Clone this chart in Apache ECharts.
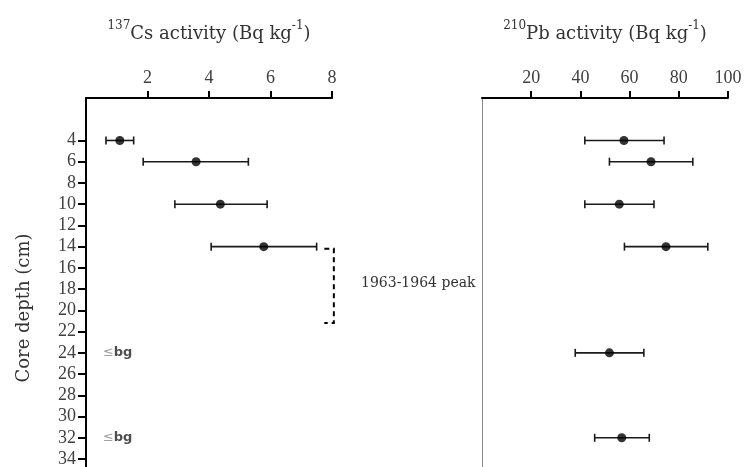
<!DOCTYPE html>
<html>
<head>
<meta charset="utf-8">
<script src="https://cdn.jsdelivr.net/npm/echarts@6/dist/echarts.min.js"></script>
<style>html,body{margin:0;padding:0;background:#fff}#c{width:745px;height:467px}</style>
</head>
<body>
<div id="c"></div>
<script>
// ---- data ----
const csDepth = [4, 6, 10, 14];
const csMean = [1.10, 3.58, 4.37, 5.78];
const csLow = [0.65, 1.86, 2.89, 4.07];
const csHigh = [1.55, 5.28, 5.89, 7.50];
const pbDepth = [4, 6, 10, 14, 24, 32];
const pbMean = [57.7, 68.7, 55.8, 74.8, 51.8, 56.8];
const pbLow = [41.8, 51.8, 41.8, 57.9, 37.9, 45.8];
const pbHigh = [74.0, 85.7, 69.9, 91.8, 65.8, 68.0];
const bgDepth = [24, 32];
const peakTop = 14.2;
const peakBottom = 21.2;
const csTicks = [2, 4, 6, 8];
const pbTicks = [20, 40, 60, 80, 100];
const depthTicks = [4, 6, 8, 10, 12, 14, 16, 18, 20, 22, 24, 26, 28, 30, 32, 34];

const SERIF = 'DejaVu Serif';
const NUMF = 'Liberation Serif';
const chart = echarts.init(document.getElementById('c'), null, {renderer: 'canvas'});

function errRender(params, api) {
  const lo = api.coord([api.value(0), api.value(2)]);
  const hi = api.coord([api.value(1), api.value(2)]);
  const h = 4;
  const style = {stroke: '#1a1a1a', lineWidth: 1.6};
  return {type: 'group', children: [
    {type: 'line', shape: {x1: lo[0], y1: lo[1], x2: hi[0], y2: hi[1]}, style: style},
    {type: 'line', shape: {x1: lo[0], y1: lo[1] - h, x2: lo[0], y2: lo[1] + h}, style: style},
    {type: 'line', shape: {x1: hi[0], y1: hi[1] - h, x2: hi[0], y2: hi[1] + h}, style: style}
  ]};
}

function bracketRender(params, api) {
  if (params.dataIndex !== 0) return null;
  const pts = [[7.75, peakTop], [8.06, peakTop], [8.06, peakBottom], [7.75, peakBottom]].map(p => api.coord(p));
  return {type: 'polyline', shape: {points: pts},
    style: {stroke: '#000', lineWidth: 2, fill: null, lineDash: [5, 4]}};
}

const titleRich = {
  sup: {fontSize: 12, fontFamily: SERIF, color: '#333', verticalAlign: 'top', padding: [0, 0, 11, 0]},
  t: {fontSize: 18, fontFamily: SERIF, color: '#333', verticalAlign: 'bottom'}
};

function xAxisCfg(gi, max, ticks, name) {
  return {
    type: 'value', gridIndex: gi, position: 'top', min: 0, max: max,
    axisLine: {show: true, onZero: false, lineStyle: {color: '#000', width: 2}},
    axisTick: {show: true, customValues: ticks, length: 7, lineStyle: {color: '#000', width: 2}},
    axisLabel: {show: true, customValues: ticks, fontFamily: NUMF, fontSize: 18, color: '#404040', margin: 11},
    splitLine: {show: false},
    name: name, nameLocation: 'middle', nameGap: 55,
    nameTextStyle: {rich: titleRich, fontSize: 18, fontFamily: SERIF, color: '#333'}
  };
}

const option = {
  animation: false,
  backgroundColor: '#fff',
  grid: [
    {left: 86, top: 98, width: 246, height: 369, containLabel: false, outerBoundsMode: 'none'},
    {left: 482, top: 98, width: 246, height: 369, containLabel: false, outerBoundsMode: 'none'}
  ],
  xAxis: [
    xAxisCfg(0, 8, csTicks, '{sup|137}{t|Cs activity (Bq kg}{sup|-1}{t|)}'),
    xAxisCfg(1, 100, pbTicks, '{sup|210}{t|Pb activity (Bq kg}{sup|-1}{t|)}')
  ],
  yAxis: [
    {
      type: 'value', gridIndex: 0, inverse: true, min: 0, max: 34.75,
      axisLine: {show: true, onZero: false, lineStyle: {color: '#000', width: 2}},
      axisTick: {show: true, customValues: depthTicks, length: 8, lineStyle: {color: '#000', width: 2}},
      axisLabel: {show: true, customValues: depthTicks, fontFamily: NUMF, fontSize: 18, color: '#404040', margin: 10},
      splitLine: {show: false}
    },
    {
      type: 'value', gridIndex: 1, inverse: true, min: 0, max: 34.75,
      axisLine: {show: true, onZero: false, lineStyle: {color: '#888', width: 1}},
      axisTick: {show: false}, axisLabel: {show: false}, splitLine: {show: false}
    }
  ],
  series: [
    {
      type: 'custom', xAxisIndex: 0, yAxisIndex: 0, renderItem: errRender,
      encode: {x: [0, 1], y: 2},
      data: csDepth.map((d, i) => [csLow[i], csHigh[i], d]), z: 2
    },
    {
      type: 'scatter', xAxisIndex: 0, yAxisIndex: 0, symbol: 'circle', symbolSize: 9,
      itemStyle: {color: '#000'}, data: csDepth.map((d, i) => [csMean[i], d]), z: 3
    },
    {
      type: 'custom', xAxisIndex: 1, yAxisIndex: 1, renderItem: errRender,
      encode: {x: [0, 1], y: 2},
      data: pbDepth.map((d, i) => [pbLow[i], pbHigh[i], d]), z: 2
    },
    {
      type: 'scatter', xAxisIndex: 1, yAxisIndex: 1, symbol: 'circle', symbolSize: 9,
      itemStyle: {color: '#000'}, data: pbDepth.map((d, i) => [pbMean[i], d]), z: 3
    },
    {
      type: 'custom', xAxisIndex: 0, yAxisIndex: 0, clip: false, renderItem: bracketRender,
      encode: {x: 0, y: 1},
      data: [[7.75, peakTop], [7.75, peakBottom]]
    },
    {
      type: 'scatter', xAxisIndex: 0, yAxisIndex: 0, symbolSize: 0,
      data: bgDepth.map(d => [0.55, d]),
      label: {
        show: true, position: 'right', distance: 0,
        formatter: '{a|≤}{b|bg}',
        rich: {
          a: {fontFamily: 'DejaVu Sans', fontSize: 13, color: '#888'},
          b: {fontFamily: 'DejaVu Sans', fontSize: 13, fontWeight: 'bold', color: '#222'}
        }
      }
    }
  ],
  graphic: [
    {type: 'text', x: 361, y: 283, style: {text: '1963-1964 peak', font: '14px "DejaVu Serif"', fill: '#333', verticalAlign: 'middle', align: 'left'}},
    {type: 'text', x: 24, y: 308, rotation: Math.PI / 2, style: {text: 'Core depth (cm)', font: '18px "DejaVu Serif"', fill: '#333', verticalAlign: 'middle', align: 'center'}}
  ]
};
chart.setOption(option);
</script>
</body>
</html>
